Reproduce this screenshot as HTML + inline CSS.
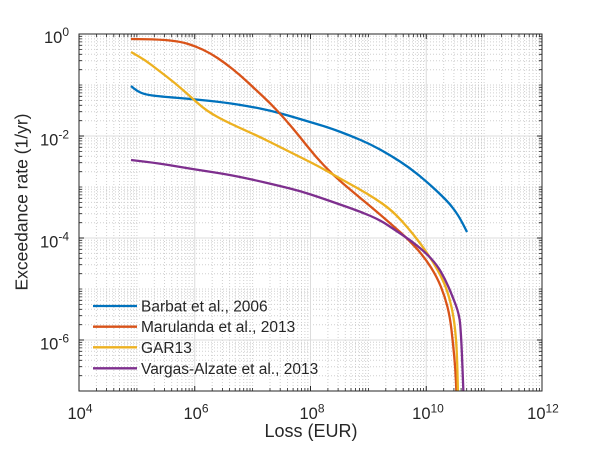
<!DOCTYPE html>
<html>
<head>
<meta charset="utf-8">
<style>
html,body{margin:0;padding:0;background:#fff;}
svg{display:block;}
text{font-family:"Liberation Sans",Arial,sans-serif;fill:#262626;}
</style>
</head>
<body>
<svg id="chart" width="600" height="450" viewBox="0 0 600 450" xmlns="http://www.w3.org/2000/svg">
<defs>
<clipPath id="pa"><rect x="79" y="34" width="463" height="357"/></clipPath>
</defs>
<rect x="0" y="0" width="600" height="450" fill="#fff"/>
<rect x="79" y="34" width="463" height="357" fill="#fff"/>

<!-- minor grid (dotted) -->
<path fill="none" stroke="#cfcfcf" stroke-width="1" stroke-dasharray="1 2"
d="M96.4 34V391M106.6 34V391M113.8 34V391M119.5 34V391M124 34V391M127.9 34V391M131.3 34V391M134.2 34V391M136.9 34V391
M154.3 34V391M164.5 34V391M171.7 34V391M177.3 34V391M181.9 34V391M185.8 34V391M189.1 34V391M192.1 34V391
M212.2 34V391M222.4 34V391M229.6 34V391M235.2 34V391M239.8 34V391M243.7 34V391M247 34V391M250 34V391M252.6 34V391
M270 34V391M280.2 34V391M287.5 34V391M293.1 34V391M297.7 34V391M301.5 34V391M304.9 34V391M307.9 34V391
M327.9 34V391M338.1 34V391M345.3 34V391M351 34V391M355.5 34V391M359.4 34V391M362.8 34V391M365.7 34V391M368.4 34V391
M385.8 34V391M396 34V391M403.2 34V391M408.8 34V391M413.4 34V391M417.3 34V391M420.6 34V391M423.6 34V391
M443.7 34V391M453.9 34V391M461.1 34V391M466.7 34V391M471.3 34V391M475.2 34V391M478.5 34V391M481.5 34V391M484.1 34V391
M501.6 34V391M511.7 34V391M519 34V391M524.6 34V391M529.2 34V391M533 34V391M536.4 34V391M539.4 34V391
M79 375.7H542M79 366.7H542M79 360.3H542M79 355.4H542M79 351.3H542M79 347.9H542M79 344.9H542M79 342.3H542
M79 324.7H542M79 315.7H542M79 309.3H542M79 304.4H542M79 300.3H542M79 296.9H542M79 293.9H542M79 291.3H542M79 289H542
M79 273.7H542M79 264.7H542M79 258.3H542M79 253.4H542M79 249.3H542M79 245.9H542M79 242.9H542M79 240.3H542
M79 222.7H542M79 213.7H542M79 207.3H542M79 202.4H542M79 198.3H542M79 194.9H542M79 191.9H542M79 189.3H542M79 187H542
M79 171.7H542M79 162.7H542M79 156.3H542M79 151.4H542M79 147.3H542M79 143.9H542M79 140.9H542M79 138.3H542
M79 120.7H542M79 111.7H542M79 105.3H542M79 100.4H542M79 96.3H542M79 92.9H542M79 89.9H542M79 87.3H542M79 85H542
M79 69.7H542M79 60.7H542M79 54.3H542M79 49.4H542M79 45.3H542M79 41.9H542M79 38.9H542M79 36.3H542"/>

<!-- major grid -->
<path fill="none" stroke="#dcdcdc" stroke-width="1"
d="M194.75 34V391M310.5 34V391M426.25 34V391M79 136H542M79 238H542M79 340H542"/>

<!-- curves -->
<g id="curves" clip-path="url(#pa)" fill="none" stroke-width="2.3" stroke-linejoin="round" stroke-linecap="butt">
<polyline class="c" stroke="#0072BD" points="131,86 137,91 145,94.5 160,96.5 192,99 225,102.5 250,106.5 270,110.5 290,116 310,122 330,128 350,135.5 370,144 390,155 410,168 427,182 440,194 450,204 458,215 463,224 467,232"/>
<polyline class="c" stroke="#D95319" points="131,39 160,39.5 180,41.5 195,46 210,53 225,63 240,75 255,89 270,103 285,119 300,137 315,156 333,175 353,192 370,206 390,223 410,241 425,258 437,277 445,297 450,317 453,343 455.5,370 456.5,395"/>
<polyline class="c" stroke="#EDB120" points="131,52 145,60 158,70 175,83 192,98 202,107 212,114 225,121 240,128 260,137 280,147 300,157 320,167 340,178.5 360,189.5 375,198.5 390,209 402,221 413,234 423,247 433,262 441,276 447,290 452,308 455,327 457,353 458,395"/>
<polyline class="c" stroke="#7E2F8E" points="131,160 160,163.5 192,169 225,174 250,179 280,186 300,191 320,197.5 340,204.5 360,211.5 380,220 395,230 410,240 425,252 437,265 445,279 452,295 459.5,315 461,335 462,355 463.5,395"/>
</g>

<!-- ticks -->
<path fill="none" stroke="#262626" stroke-width="1"
d="M194.75 391v-5M310.5 391v-5M426.25 391v-5M194.75 34v5M310.5 34v5M426.25 34v5
M79 136h5M79 238h5M79 340h5M542 136h-5M542 238h-5M542 340h-5"/>
<path fill="none" stroke="#262626" stroke-width="0.8"
d="M96.4 391v-3M106.6 391v-3M113.8 391v-3M119.5 391v-3M124 391v-3M127.9 391v-3M131.3 391v-3M134.2 391v-3M136.9 391v-3
M154.3 391v-3M164.5 391v-3M171.7 391v-3M177.3 391v-3M181.9 391v-3M185.8 391v-3M189.1 391v-3M192.1 391v-3
M212.2 391v-3M222.4 391v-3M229.6 391v-3M235.2 391v-3M239.8 391v-3M243.7 391v-3M247 391v-3M250 391v-3M252.6 391v-3
M270 391v-3M280.2 391v-3M287.5 391v-3M293.1 391v-3M297.7 391v-3M301.5 391v-3M304.9 391v-3M307.9 391v-3
M327.9 391v-3M338.1 391v-3M345.3 391v-3M351 391v-3M355.5 391v-3M359.4 391v-3M362.8 391v-3M365.7 391v-3M368.4 391v-3
M385.8 391v-3M396 391v-3M403.2 391v-3M408.8 391v-3M413.4 391v-3M417.3 391v-3M420.6 391v-3M423.6 391v-3
M443.7 391v-3M453.9 391v-3M461.1 391v-3M466.7 391v-3M471.3 391v-3M475.2 391v-3M478.5 391v-3M481.5 391v-3M484.1 391v-3
M501.6 391v-3M511.7 391v-3M519 391v-3M524.6 391v-3M529.2 391v-3M533 391v-3M536.4 391v-3M539.4 391v-3
M96.4 34v3M106.6 34v3M113.8 34v3M119.5 34v3M124 34v3M127.9 34v3M131.3 34v3M134.2 34v3M136.9 34v3
M154.3 34v3M164.5 34v3M171.7 34v3M177.3 34v3M181.9 34v3M185.8 34v3M189.1 34v3M192.1 34v3
M212.2 34v3M222.4 34v3M229.6 34v3M235.2 34v3M239.8 34v3M243.7 34v3M247 34v3M250 34v3M252.6 34v3
M270 34v3M280.2 34v3M287.5 34v3M293.1 34v3M297.7 34v3M301.5 34v3M304.9 34v3M307.9 34v3
M327.9 34v3M338.1 34v3M345.3 34v3M351 34v3M355.5 34v3M359.4 34v3M362.8 34v3M365.7 34v3M368.4 34v3
M385.8 34v3M396 34v3M403.2 34v3M408.8 34v3M413.4 34v3M417.3 34v3M420.6 34v3M423.6 34v3
M443.7 34v3M453.9 34v3M461.1 34v3M466.7 34v3M471.3 34v3M475.2 34v3M478.5 34v3M481.5 34v3M484.1 34v3
M501.6 34v3M511.7 34v3M519 34v3M524.6 34v3M529.2 34v3M533 34v3M536.4 34v3M539.4 34v3
M79 375.7h3M79 366.7h3M79 360.3h3M79 355.4h3M79 351.3h3M79 347.9h3M79 344.9h3M79 342.3h3
M79 324.7h3M79 315.7h3M79 309.3h3M79 304.4h3M79 300.3h3M79 296.9h3M79 293.9h3M79 291.3h3M79 289h3
M79 273.7h3M79 264.7h3M79 258.3h3M79 253.4h3M79 249.3h3M79 245.9h3M79 242.9h3M79 240.3h3
M79 222.7h3M79 213.7h3M79 207.3h3M79 202.4h3M79 198.3h3M79 194.9h3M79 191.9h3M79 189.3h3M79 187h3
M79 171.7h3M79 162.7h3M79 156.3h3M79 151.4h3M79 147.3h3M79 143.9h3M79 140.9h3M79 138.3h3
M79 120.7h3M79 111.7h3M79 105.3h3M79 100.4h3M79 96.3h3M79 92.9h3M79 89.9h3M79 87.3h3M79 85h3
M79 69.7h3M79 60.7h3M79 54.3h3M79 49.4h3M79 45.3h3M79 41.9h3M79 38.9h3M79 36.3h3
M542 375.7h-3M542 366.7h-3M542 360.3h-3M542 355.4h-3M542 351.3h-3M542 347.9h-3M542 344.9h-3M542 342.3h-3
M542 324.7h-3M542 315.7h-3M542 309.3h-3M542 304.4h-3M542 300.3h-3M542 296.9h-3M542 293.9h-3M542 291.3h-3M542 289h-3
M542 273.7h-3M542 264.7h-3M542 258.3h-3M542 253.4h-3M542 249.3h-3M542 245.9h-3M542 242.9h-3M542 240.3h-3
M542 222.7h-3M542 213.7h-3M542 207.3h-3M542 202.4h-3M542 198.3h-3M542 194.9h-3M542 191.9h-3M542 189.3h-3M542 187h-3
M542 171.7h-3M542 162.7h-3M542 156.3h-3M542 151.4h-3M542 147.3h-3M542 143.9h-3M542 140.9h-3M542 138.3h-3
M542 120.7h-3M542 111.7h-3M542 105.3h-3M542 100.4h-3M542 96.3h-3M542 92.9h-3M542 89.9h-3M542 87.3h-3M542 85h-3
M542 69.7h-3M542 60.7h-3M542 54.3h-3M542 49.4h-3M542 45.3h-3M542 41.9h-3M542 38.9h-3M542 36.3h-3"/>

<!-- axes box -->
<rect x="79" y="34" width="463" height="357" fill="none" stroke="#262626" stroke-width="1"/>

<!-- x tick labels -->
<g font-size="16.5" text-anchor="middle">
<text x="80" y="419">10<tspan font-size="12" dy="-6.5">4</tspan></text>
<text x="196" y="419">10<tspan font-size="12" dy="-6.5">6</tspan></text>
<text x="312" y="419">10<tspan font-size="12" dy="-6.5">8</tspan></text>
<text x="428" y="419">10<tspan font-size="12" dy="-6.5">10</tspan></text>
<text x="543" y="419">10<tspan font-size="12" dy="-6.5">12</tspan></text>
</g>

<!-- y tick labels -->
<g font-size="16.5" text-anchor="end">
<text x="69" y="43">10<tspan font-size="12" dy="-7">0</tspan></text>
<text x="69" y="145.5">10<tspan font-size="12" dy="-7">-2</tspan></text>
<text x="69" y="247.5">10<tspan font-size="12" dy="-7">-4</tspan></text>
<text x="69" y="349.5">10<tspan font-size="12" dy="-7">-6</tspan></text>
</g>

<!-- axis labels -->
<text x="311" y="437" font-size="18" text-anchor="middle">Loss (EUR)</text>
<text transform="translate(27.5,202) rotate(-90)" font-size="17.5" text-anchor="middle">Exceedance rate (1/yr)</text>

<!-- legend -->
<g stroke-width="2.3">
<line x1="93" y1="306" x2="137" y2="306" stroke="#0072BD"/>
<line x1="93" y1="326.7" x2="137" y2="326.7" stroke="#D95319"/>
<line x1="93" y1="347.3" x2="137" y2="347.3" stroke="#EDB120"/>
<line x1="93" y1="368.3" x2="137" y2="368.3" stroke="#7E2F8E"/>
</g>
<g font-size="15.5">
<text x="141" y="311.5">Barbat et al., 2006</text>
<text x="141" y="332.2">Marulanda et al., 2013</text>
<text x="141" y="352.8">GAR13</text>
<text x="141" y="373.8">Vargas-Alzate et al., 2013</text>
</g>
</svg>
<script>
(function(){
  try{
    var NS="http://www.w3.org/2000/svg";
    var pls=document.querySelectorAll("#curves polyline.c");
    for(var k=0;k<pls.length;k++){
      var pl=pls[k];
      var pts=pl.getAttribute("points").trim().split(/\s+/).map(function(s){return s.split(",").map(Number);});
      var n=pts.length;
      if(n<3) continue;
      var mid=function(a,b){return [(a[0]+b[0])/2,(a[1]+b[1])/2];};
      var f=function(p){return p[0].toFixed(2)+" "+p[1].toFixed(2);};
      var d="M"+f(pts[0])+" L"+f(mid(pts[0],pts[1]));
      for(var i=1;i<n-1;i++){
        d+=" Q"+f(pts[i])+" "+f(mid(pts[i],pts[i+1]));
      }
      d+=" L"+f(pts[n-1]);
      var p=document.createElementNS(NS,"path");
      p.setAttribute("d",d);
      p.setAttribute("stroke",pl.getAttribute("stroke"));
      pl.parentNode.replaceChild(p,pl);
    }
  }catch(e){}
})();
</script>
</body>
</html>
